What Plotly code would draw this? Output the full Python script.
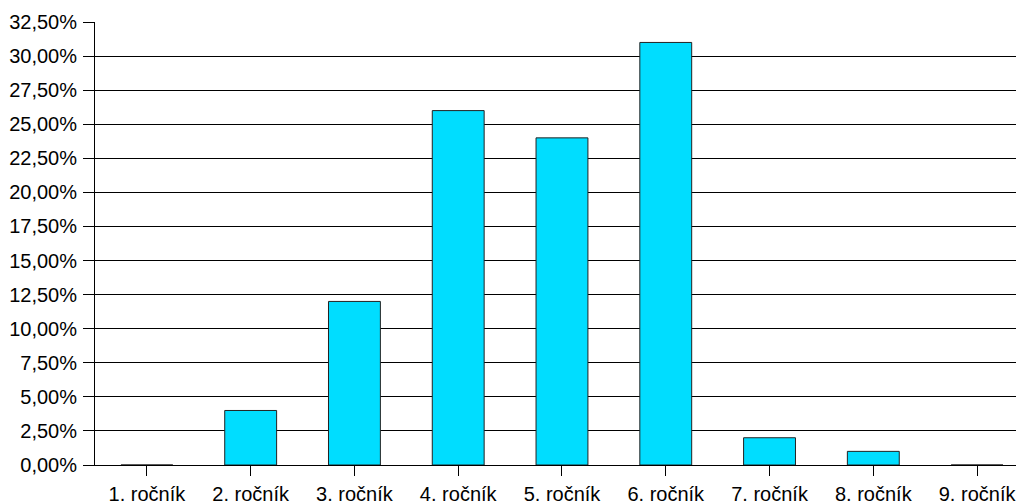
import plotly.graph_objects as go

# Share of respondents by school year (in percent)
categories = ["1. ročník", "2. ročník", "3. ročník", "4. ročník", "5. ročník",
              "6. ročník", "7. ročník", "8. ročník", "9. ročník"]
shares = [0, 4, 12, 26, 24, 31, 2, 1, 0]

fig = go.Figure(
    go.Bar(
        x=list(range(len(categories))),
        y=shares,
        width=0.5,
        marker=dict(color="#00DDFF", line=dict(color="#222222", width=1)),
    )
)

font = dict(family="Liberation Sans, Arial, sans-serif", size=20, color="#000000")

fig.update_layout(
    width=1016,
    height=504,
    margin=dict(l=95, r=0, t=22, b=39),
    paper_bgcolor="white",
    plot_bgcolor="white",
    separators=", ",
    showlegend=False,
    font=font,
)

fig.update_xaxes(
    range=[-0.5, 8.375],
    tickmode="array",
    tickvals=list(range(len(categories))),
    ticktext=categories,
    tickson="boundaries",
    ticks="outside",
    ticklen=10,
    tickcolor="black",
    ticklabelstandoff=1,
    ticklabeloverflow="allow",
    automargin=False,
    showgrid=False,
    showline=True,
    linecolor="black",
    linewidth=1,
    zeroline=False,
)

fig.update_yaxes(
    range=[0, 32.5],
    tick0=0,
    dtick=2.5,
    tickformat=".2f",
    ticksuffix="%",
    ticks="outside",
    ticklen=11,
    tickcolor="black",
    ticklabelstandoff=2,
    automargin=False,
    showgrid=True,
    gridcolor="black",
    gridwidth=1,
    showline=True,
    linecolor="black",
    linewidth=1,
    zeroline=False,
)

fig.write_html("out.html")
